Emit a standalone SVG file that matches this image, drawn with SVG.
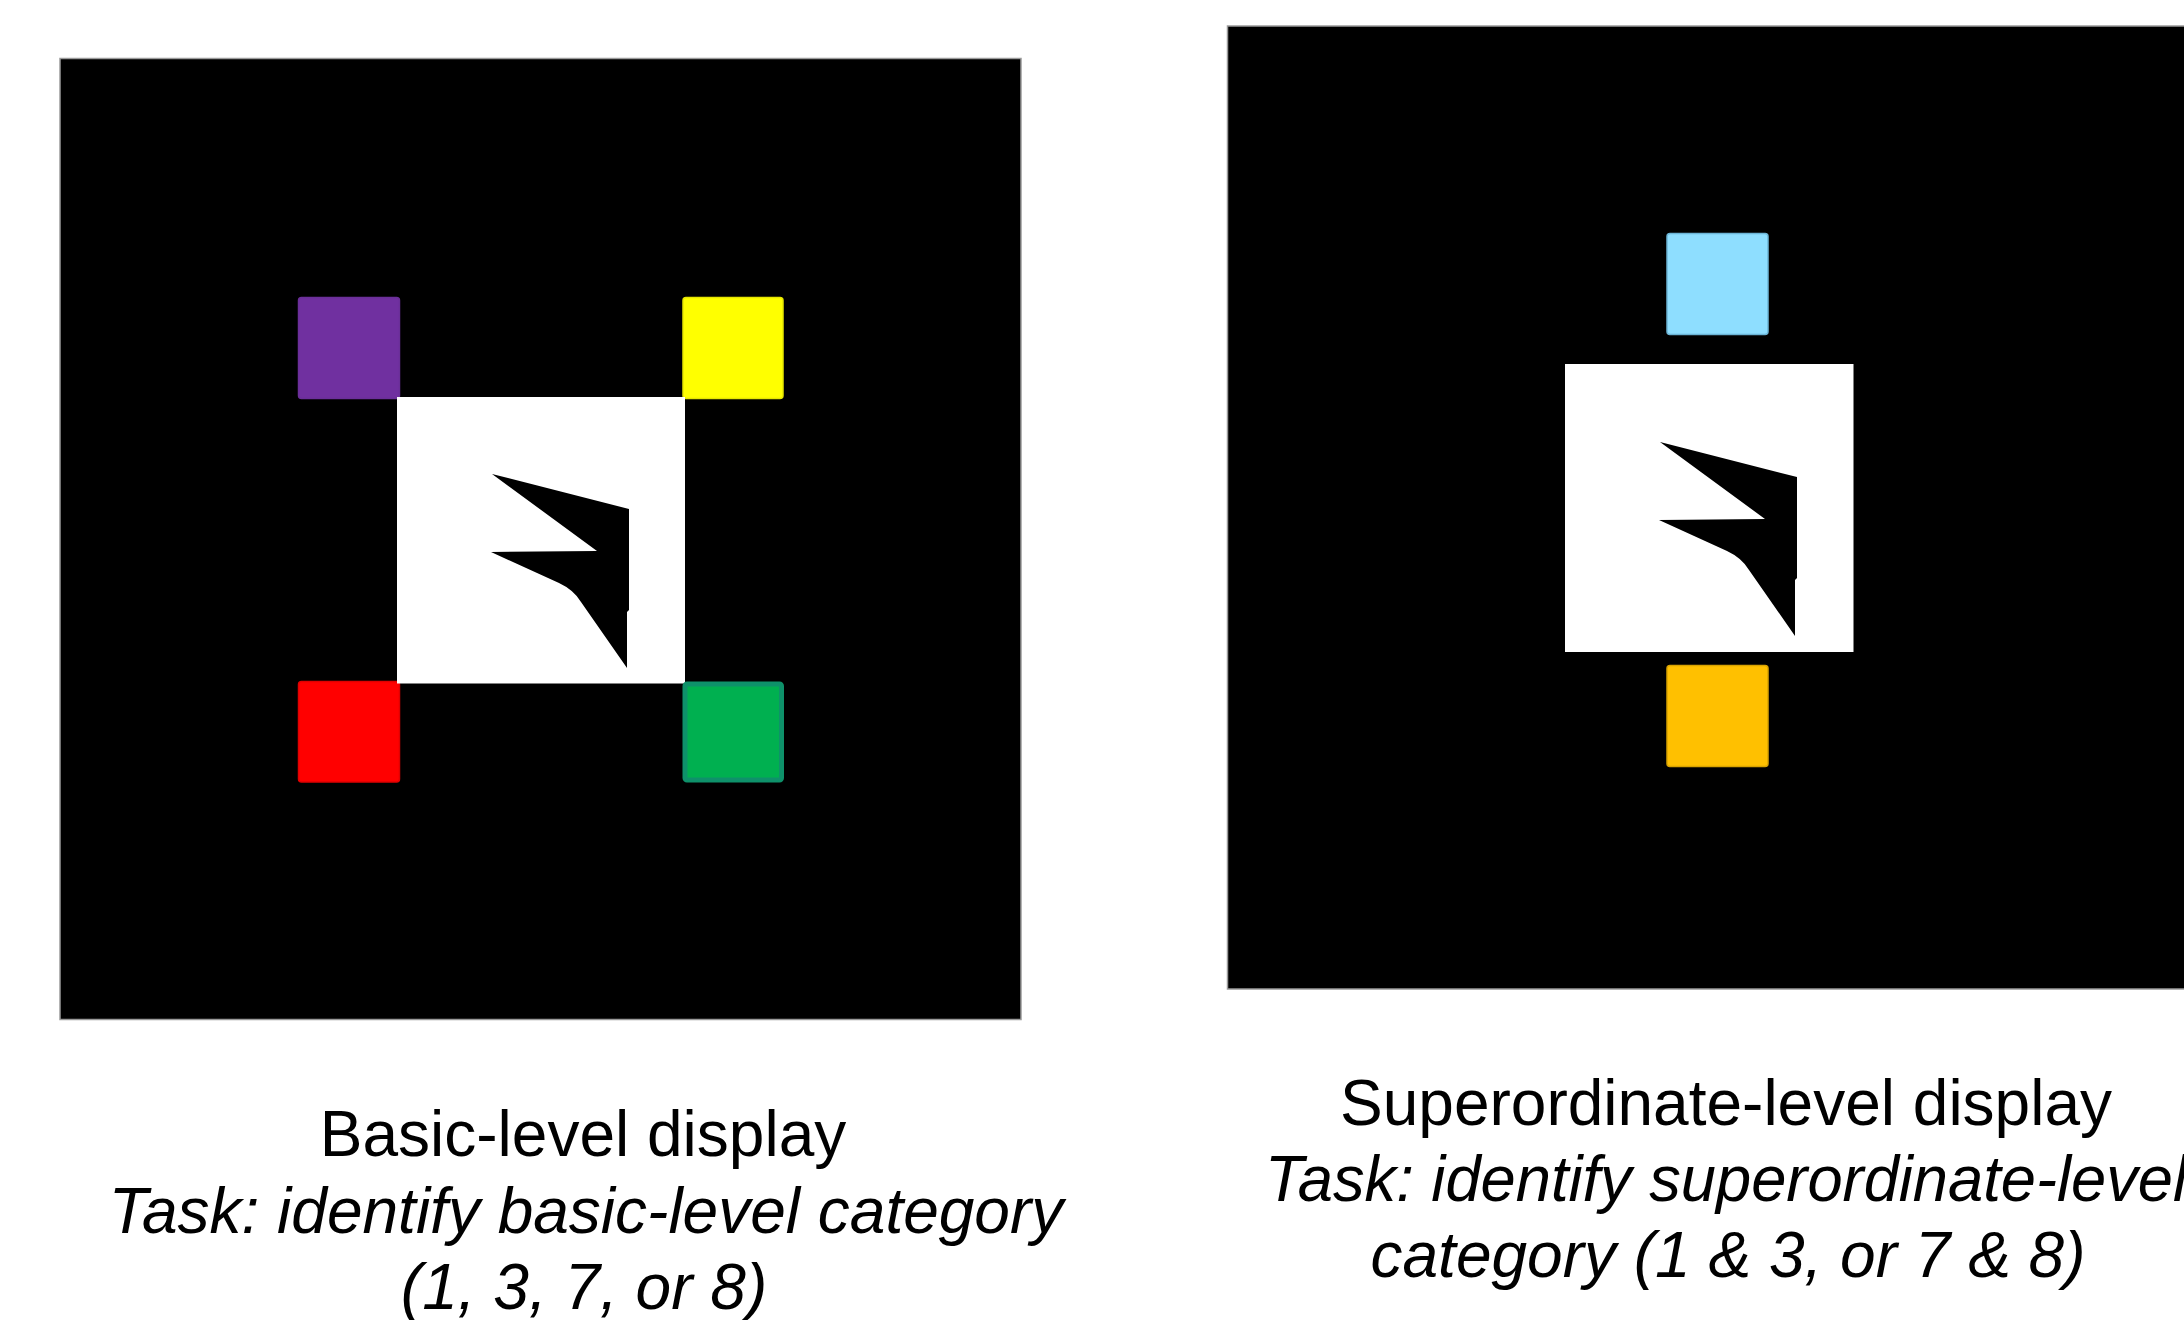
<svg xmlns="http://www.w3.org/2000/svg" xmlns:xlink="http://www.w3.org/1999/xlink" width="2184" height="1320" viewBox="0 0 2184 1320">
<style>
.bg{fill:#000;stroke:#9a9a9a;stroke-width:1.5}
.win{fill:#fff}
.sq{stroke-width:1.5}
.t{font-family:"Liberation Sans",Arial,sans-serif;font-size:64px;fill:#000;text-anchor:middle}
.i{font-style:italic}
</style>
<defs>
<path id="fig" d="M95,77 L232,112 L232,213 L230,215 L230,271 L184,205 Q177,193 162,186 L94,155 L200,154 Z" fill="#000"/>
</defs>
<rect width="2184" height="1320" fill="#fff"/>
<g id="basic-display">
<rect class="bg" x="60" y="58.5" width="961" height="961"/>
<rect class="sq" x="298.5" y="297.5" width="101" height="101" rx="3" fill="#7030A0" stroke="#6a2f98"/>
<rect class="sq" x="683" y="297.5" width="100" height="101" rx="3" fill="#FFFF00" stroke="#e6e600"/>
<rect class="sq" x="298.5" y="681.5" width="101" height="100.5" rx="3" fill="#FF0000" stroke="#e00000"/>
<rect x="397" y="397" width="288" height="286.5" class="win"/>
<rect x="685" y="684" width="96.5" height="96" rx="2" fill="#00B050" stroke="#0E916A" stroke-width="5"/>
<use xlink:href="#fig" href="#fig" x="397" y="397"/>
</g>
<g id="superordinate-display">
<rect class="bg" x="1227.5" y="26" width="1000" height="963"/>
<rect class="sq" x="1667" y="233.5" width="101" height="101" rx="3" fill="#8EDEFF" stroke="#6cb5d6"/>
<rect x="1565" y="364" width="288.5" height="288" class="win"/>
<rect class="sq" x="1667" y="665.5" width="101" height="101" rx="3" fill="#FFC000" stroke="#d9a300"/>
<use xlink:href="#fig" href="#fig" x="1565" y="365"/>
</g>
<g id="basic-label">
<text class="t" x="583" y="1156">Basic-level display</text>
<text class="t i" x="586" y="1233">Task: identify basic-level category</text>
<text class="t i" x="584" y="1309">(1, 3, 7, or 8)</text>
</g>
<g id="superordinate-label">
<text class="t" x="1726" y="1125">Superordinate-level display</text>
<text class="t i" x="1726" y="1201" textLength="922" lengthAdjust="spacingAndGlyphs">Task: identify superordinate-level</text>
<text class="t i" x="1728" y="1277">category (1 &amp; 3, or 7 &amp; 8)</text>
</g>
</svg>
